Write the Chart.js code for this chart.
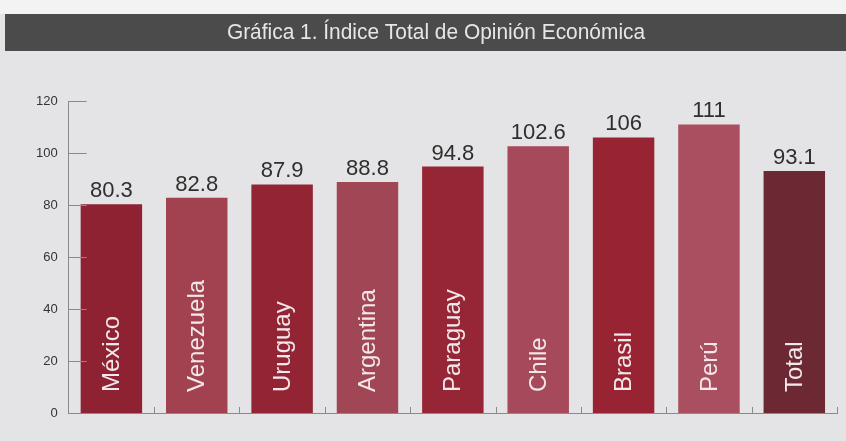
<!DOCTYPE html>
<html lang="es">
<head>
    <meta charset="UTF-8">
    <title>Gráfica 1. Índice Total de Opinión Económica</title>
    <script src="https://cdn.jsdelivr.net/npm/chart.js"></script>
    <style>
        body { margin: 0; background: #e5e5e7; }
        canvas { display: block; }
    </style>
</head>
<body>
<canvas id="opinionChart" width="846" height="441"></canvas>

<script>
    const titleText = 'Gráfica 1. Índice Total de Opinión Económica';
    const countries = ['México', 'Venezuela', 'Uruguay', 'Argentina', 'Paraguay', 'Chile', 'Brasil', 'Perú', 'Total'];
    const indexValues = [80.3, 82.8, 87.9, 88.8, 94.8, 102.6, 106, 111, 93.1];
    const valueLabels = ['80.3', '82.8', '87.9', '88.8', '94.8', '102.6', '106', '111', '93.1'];
    const yTicks = [0, 20, 40, 60, 80, 100, 120];

    const barColors = ['#8e2232', '#a2414f', '#932434', '#a14655', '#962636', '#a6495a', '#982433', '#aa4f60', '#6c2833'];

    // background, title band, inner ticks and bar labels
    const decor = {
        id: 'decor',
        beforeDraw(chart) {
            const c = chart.ctx;
            c.save();
            c.fillStyle = '#e4e4e6';
            c.fillRect(0, 0, chart.width, chart.height);
            c.fillStyle = '#f3f3f3';
            c.fillRect(0, 0, chart.width, 14);
            c.fillStyle = '#4b4b4b';
            c.fillRect(5, 14, chart.width - 5, 37);
            // condensed look for the title
            c.translate(436, 33);
            c.scale(0.95, 1);
            c.fillStyle = '#e6e6e6';
            c.font = '22px "Liberation Sans", Arial, sans-serif';
            c.textAlign = 'center';
            c.textBaseline = 'middle';
            c.fillText(titleText, 0, 0);
            c.restore();
        },
        afterDatasetsDraw(chart) {
            const c = chart.ctx;
            const x = chart.scales.x, y = chart.scales.y;
            const meta = chart.getDatasetMeta(0);
            c.save();
            c.strokeStyle = '#8a8a8a';
            c.lineWidth = 1;
            yTicks.forEach(v => {
                const py = Math.round(y.getPixelForValue(v)) + 0.5;
                c.beginPath();
                c.moveTo(x.left, py);
                c.lineTo(x.left + 18, py);
                c.stroke();
            });
            for (let i = 1; i <= countries.length; i++) {
                const px = Math.round(x.left + (x.right - x.left) * i / countries.length) + 0.5;
                c.beginPath();
                c.moveTo(px, y.bottom);
                c.lineTo(px, y.bottom - 6);
                c.stroke();
            }
            meta.data.forEach((bar, i) => {
                c.fillStyle = '#2e2e2e';
                c.font = '22px "Liberation Sans", Arial, sans-serif';
                c.textAlign = 'center';
                c.textBaseline = 'alphabetic';
                c.fillText(valueLabels[i], bar.x, bar.y - 7);

                c.save();
                c.translate(bar.x, bar.base - 21);
                c.rotate(-Math.PI / 2);
                c.fillStyle = '#f2e8ea';
                c.font = '24px "Liberation Sans", Arial, sans-serif';
                c.textAlign = 'left';
                c.textBaseline = 'middle';
                c.fillText(countries[i], 0, 1);
                c.restore();
            });
            c.restore();
        }
    };

    const ctx = document.getElementById('opinionChart').getContext('2d');

    new Chart(ctx, {
        type: 'bar',
        data: {
            labels: countries,
            datasets: [{
                label: 'Índice',
                data: indexValues,
                backgroundColor: barColors,
                borderWidth: 0,
                barPercentage: 0.72,
                categoryPercentage: 1
            }]
        },
        options: {
            responsive: false,
            animation: false,
            layout: { padding: { top: 101, left: 25, right: 9, bottom: 28 } },
            plugins: {
                legend: { display: false },
                tooltip: { enabled: false }
            },
            scales: {
                x: {
                    ticks: { display: false },
                    grid: { display: false, drawTicks: false },
                    border: { color: '#8a8a8a' }
                },
                y: {
                    min: 0,
                    max: 120,
                    afterBuildTicks: axis => { axis.ticks = yTicks.map(v => ({ value: v })); },
                    ticks: {
                        color: '#333333',
                        padding: 11,
                        font: { family: '"Liberation Sans", Arial, sans-serif', size: 13 }
                    },
                    grid: { display: false, drawTicks: false },
                    border: { color: '#8a8a8a' }
                }
            }
        },
        plugins: [decor]
    });
</script>
</body>
</html>
